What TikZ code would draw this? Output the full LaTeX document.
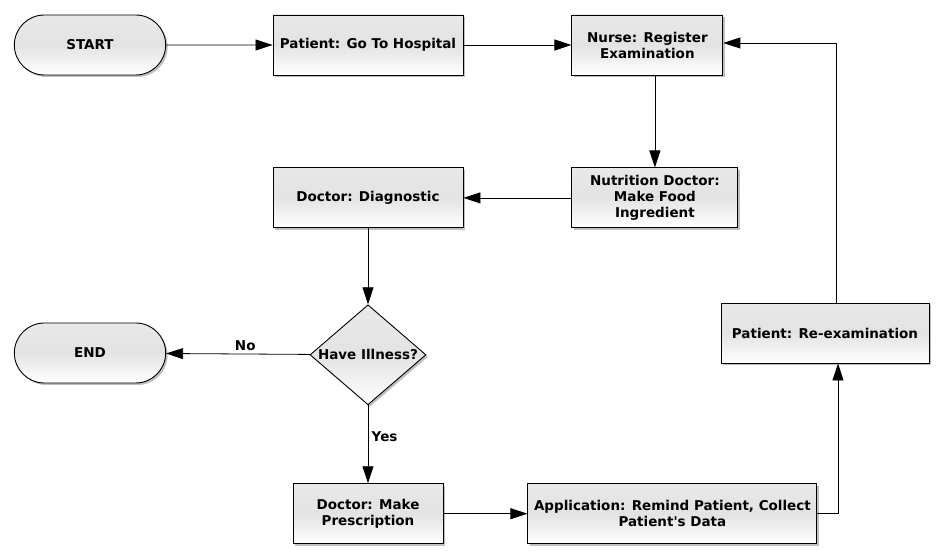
\documentclass[tikz,border=0pt]{standalone}
\usepackage{fontspec}
\setmainfont{DejaVu Sans}
\usetikzlibrary{arrows.meta, positioning, shapes.geometric, shapes.misc, shadows}
\tikzset{
    shade/.style={top color=black!9, bottom color=white, middle color=black!11,
      drop shadow={shadow xshift=2pt, shadow yshift=-2pt, opacity=0.25, fill=black}},
    box/.style={draw, line width=0.9pt, shade, minimum height=60pt, align=center, inner sep=2pt},
    term/.style={rounded rectangle, draw, line width=0.9pt, shade, minimum width=158pt, minimum height=60pt},
    decision/.style={diamond, draw, line width=0.9pt, shade, minimum width=116pt, minimum height=100pt, inner sep=0pt},
    flow/.style={-{Triangle[length=17pt, width=11pt]}, line width=0.8pt},
}
\begin{document}
\begin{tikzpicture}[x=1pt, y=-1pt, font=\bfseries\fontsize{13.5}{16}\selectfont]
    \useasboundingbox (0,0) rectangle (944,556);

    \node[term] (start) at (90,45) {START};
    \node[box, minimum width=190pt] (hosp) at (368,45) {Patient: Go To Hospital};
    \node[box, minimum width=151pt, right=108pt of hosp] (nurse) {Nurse: Register\\Examination};
    \node[box, minimum width=190pt, below=92pt of hosp] (diag) {Doctor: Diagnostic};
    \node[box, minimum width=166pt, right=108pt of diag] (nutri) {Nutrition Doctor:\\Make Food\\Ingredient};

    \node[decision, below=76pt of diag] (ill) {\makebox[0pt]{Have Illness?}};
    \node[term] (stop) at (90,353) {END};

    \node[box, minimum width=150pt, below=78pt of ill] (presc) {Doctor: Make\\Prescription};
    \node[box, minimum width=289pt, right=84pt of presc] (app) {Application: Remind Patient, Collect\\Patient\textquotesingle s Data};
    \node[box, minimum width=208pt] (reexam) at (825,333) {Patient: Re-examination};

    \draw[flow] (start) -- (hosp);
    \draw[flow] (hosp) -- (nurse);
    \draw[flow] (nurse.south -| nutri.north) -- (nutri.north);
    \draw[flow] (nutri) -- (diag);
    \draw[flow] (diag) -- (ill);
    \draw[flow] (ill) -- node[above, pos=0.45]{No} (stop);
    \draw[flow] (ill) -- node[right, pos=0.4]{Yes} (presc);
    \draw[flow] (presc) -- (app);
    \draw[flow] (app.east) -| ([xshift=13pt]reexam.south);
    \draw[flow] ([xshift=11pt]reexam.north) |- ([yshift=2pt]nurse.east);
\end{tikzpicture}
\end{document}
